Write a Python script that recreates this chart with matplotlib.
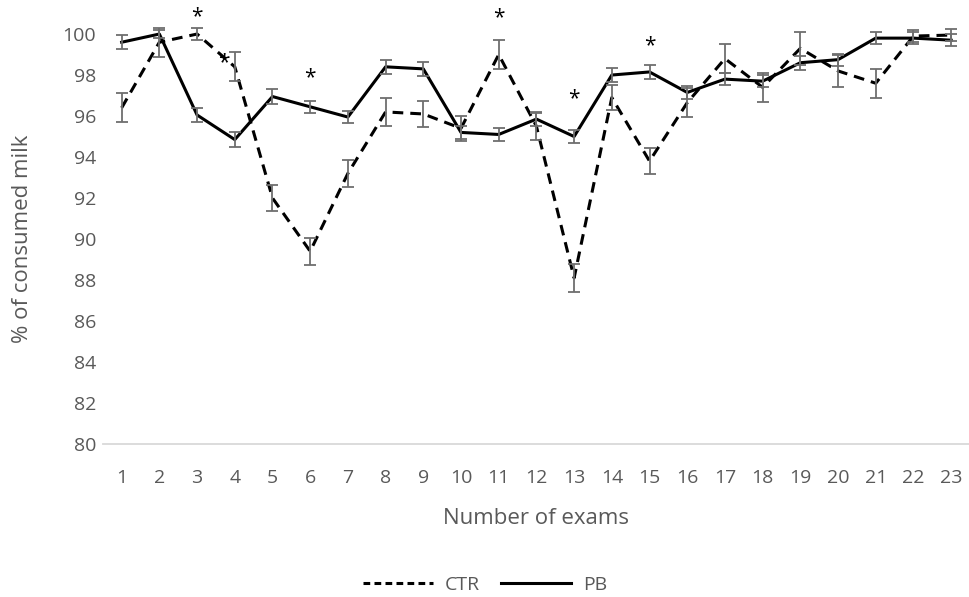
import matplotlib
matplotlib.use("Agg")
import matplotlib.pyplot as plt
from matplotlib.lines import Line2D

exams = list(range(1, 24))
ctr = [96.4, 99.6, 100.0, 98.4, 92.0, 89.4, 93.2, 96.2, 96.1, 95.4, 99.0, 95.5,
       88.1, 96.9, 93.8, 96.65, 98.8, 97.4, 99.3, 98.2, 97.6, 99.9, 99.95]
ctr_err = [0.7, 0.7, 0.3, 0.7, 0.65, 0.65, 0.65, 0.7, 0.65, 0.6, 0.7, 0.65,
           0.7, 0.6, 0.65, 0.7, 0.7, 0.7, 0.8, 0.8, 0.7, 0.3, 0.3]
pb = [99.6, 100.0, 96.05, 94.85, 96.95, 96.45, 95.95, 98.4, 98.3, 95.2, 95.1, 95.85,
      95.0, 98.0, 98.15, 97.15, 97.8, 97.7, 98.6, 98.75, 99.8, 99.8, 99.7]
pb_err = [0.35, 0.2, 0.35, 0.35, 0.35, 0.3, 0.3, 0.35, 0.35, 0.3, 0.3, 0.35,
          0.3, 0.35, 0.35, 0.3, 0.3, 0.3, 0.35, 0.3, 0.3, 0.3, 0.3]
star_exam = [3, 4, 6, 11, 13, 15]
star_y = [100.85, 98.6, 97.85, 100.8, 96.85, 99.45]
star_dx = [0, -8, 0, 0, 0, 0]
yticks = list(range(80, 101, 2))

plt.rcParams['font.family'] = ['Open Sans', 'DejaVu Sans']
txt = '#595959'
fig = plt.figure(figsize=(9.7, 5.97), dpi=100)
ax = fig.add_axes([0.106, 0.2563, 0.894, 0.6867])

ax.plot(exams, ctr, color='black', lw=2.2, dashes=(3.5, 2.3), zorder=3, clip_on=False)
ax.plot(exams, pb, color='black', lw=2.2, zorder=3, clip_on=False)
for vals, errs in ((ctr, ctr_err), (pb, pb_err)):
    eb = ax.errorbar(exams, vals, yerr=errs, fmt='none', ecolor='#6e6e6e',
                     elinewidth=1.3, capsize=4.5, capthick=1.3, zorder=4)
    for part in eb.lines[1] + eb.lines[2]:
        part.set_clip_on(False)

for e, y, dx in zip(star_exam, star_y, star_dx):
    ax.annotate('*', xy=(e, y), xytext=(dx, 0), textcoords='offset points',
                ha='center', va='center', fontsize=15, color='black',
                annotation_clip=False)

ax.set_xlim(0.5, 23.5)
ax.set_ylim(80, 100)
ax.set_yticks(yticks)
ax.set_xticks(exams)
for s in ('top', 'right', 'left'):
    ax.spines[s].set_visible(False)
ax.spines['bottom'].set_color('#d9d9d9')
ax.spines['bottom'].set_linewidth(1.3)
ax.tick_params(axis='both', length=0, labelsize=14, labelcolor=txt)
ax.tick_params(axis='x', pad=18)
ax.tick_params(axis='y', pad=5)
ax.set_xlabel('Number of exams', fontsize=16, color=txt, labelpad=15)
ax.set_ylabel('% of consumed milk', fontsize=16, color=txt, labelpad=21)

handles = [Line2D([], [], color='black', lw=2.2, dashes=(2.2, 1.4)),
           Line2D([], [], color='black', lw=2.2)]
leg = fig.legend(handles, ['CTR', 'PB'], loc='center', bbox_to_anchor=(0.5, 1 - 585 / 597),
                 ncol=2, frameon=False, fontsize=14, handlelength=3.6,
                 handletextpad=0.6, columnspacing=1.1)
for t in leg.get_texts():
    t.set_color(txt)

fig.savefig('out.png', dpi=100)
